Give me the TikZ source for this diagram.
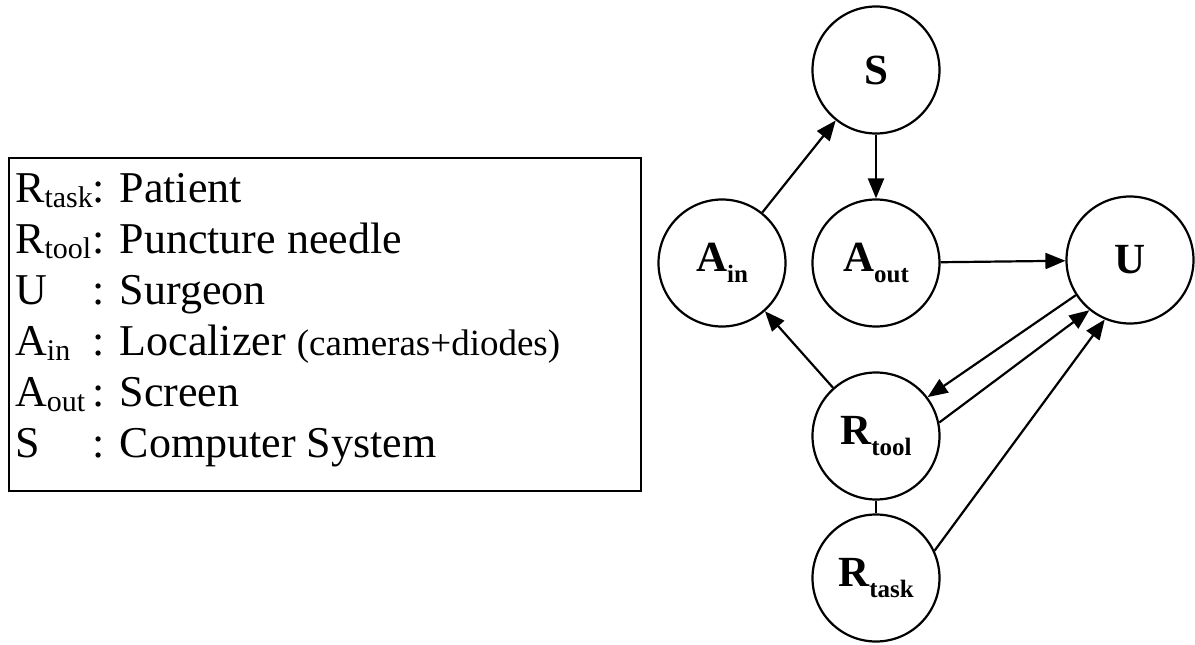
\documentclass[tikz,border=0pt]{standalone}
\usepackage{fontspec}
\setmainfont{Liberation Serif}
\usepackage{tikz}
\usetikzlibrary{arrows.meta}

\newcommand{\agsub}[2]{#1\raisebox{-11pt}{\fontsize{25}{25}\selectfont #2}}
\newcommand{\legsub}[2]{#1\raisebox{-5pt}{\fontsize{30}{30}\selectfont #2}}

\begin{document}
\begin{tikzpicture}
[x=1pt,y=-1pt
,ag/.style={circle,draw,line width=2.2pt,minimum size=127pt,inner sep=0pt
  ,font=\bfseries\fontsize{43}{43}\selectfont}
,ae/.style={draw=black,line width=2.2pt,arrows={-Triangle[length=20pt,width=16pt]}}
,ln/.style={draw=black,line width=2.2pt}
,legbox/.style={draw,line width=1.8pt,minimum width=632pt,minimum height=333pt,inner sep=0pt}
]
\useasboundingbox (0,0) rectangle (1195,645);
% legend
\node[legbox,anchor=north west] (leg) at (8,157) {};
\node[anchor=west,inner sep=0pt,font=\fontsize{44}{51}\selectfont] (legtxt) at (15,320)
{\begin{tabular}{@{}l@{}l@{}}
\legsub{R}{task} & : Patient\\
\legsub{R}{tool} & : Puncture needle\\
U & : Surgeon\\
\legsub{A}{in} & : Localizer {\fontsize{37}{37}\selectfont (cameras+diodes)}\\
\legsub{A}{out} & : Screen\\
S & : Computer System
\end{tabular}};
% agents
\node[ag] (s) at (876,70) {S};
\node[ag] (ain) at (722,263) {\agsub{A}{in}};
\node[ag] (aout) at (876,263) {\agsub{A}{out}};
\node[ag] (u) at (1130,260) {U};
\node[ag] (rtool) at (876,436) {\agsub{R}{tool}};
\node[ag] (rtask) at (876,578) {\agsub{R}{task}};
% links
\draw[ae] (ain) -- (s);
\draw[ae] (s) -- (aout);
\draw[ae] (aout) -- (u);
\draw[ae] (rtool) -- (ain);
\draw[ae] (u.213) -- (rtool.37);
\draw[ae] (rtool.12) -- (u.231);
\draw[ae] (rtask.25) -- (u.247);
\draw[ln] (rtool) -- (rtask);
\end{tikzpicture}
\end{document}
